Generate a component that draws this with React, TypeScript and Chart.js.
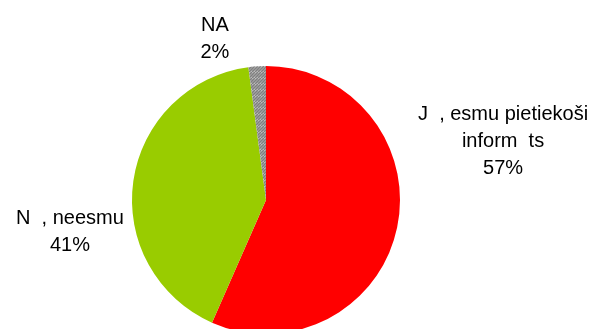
import React, { useEffect, useRef } from "react";
import { Chart, registerables } from "chart.js";

Chart.register(...registerables);

const categories: string[] = ["J  , esmu pietiekoši informēts", "N  , neesmu", "NA"];
const labelNameLines: string[][] = [
  ["J  , esmu pietiekoši", "inform  ts"],
  ["N  , neesmu"],
  ["NA"],
];
const values: number[] = [56.6, 41.3, 2.1];
const colors: string[] = ["#FF0000", "#99CC00", "pattern"];

// label block centres relative to pie centre, in units of the radius
const labelOffsets: [number, number][] = [
  [1.769, -0.44],
  [-1.463, 0.239],
  [-0.381, -1.205],
];

function makePattern(): CanvasPattern | string {
  const c = document.createElement("canvas");
  c.width = 6;
  c.height = 6;
  const g = c.getContext("2d");
  if (!g) return "#A0A0A0";
  g.fillStyle = "#D8D8D8";
  g.fillRect(0, 0, 6, 6);
  g.strokeStyle = "#7F7F7F";
  g.lineWidth = 1.6;
  g.beginPath();
  for (let k = -6; k <= 12; k += 3) {
    g.moveTo(k, 6);
    g.lineTo(k + 6, 0);
  }
  g.stroke();
  const p = g.createPattern(c, "repeat");
  return p || "#A0A0A0";
}

const labelPlugin = {
  id: "pieLabels",
  afterDraw(chart: any) {
    const meta = chart.getDatasetMeta(0);
    const ds = chart.data.datasets[0].data as number[];
    const total = ds.reduce((a, b) => a + b, 0);
    const ctx = chart.ctx;
    ctx.save();
    ctx.font = '20px "Liberation Sans", Arial, sans-serif';
    ctx.fillStyle = "#000000";
    ctx.textAlign = "center";
    ctx.textBaseline = "middle";
    const lh = 27;
    meta.data.forEach((arc: any, i: number) => {
      const { x, y, outerRadius } = arc.getProps(["x", "y", "outerRadius"], true);
      const cx = x + labelOffsets[i][0] * outerRadius;
      const cy = y + labelOffsets[i][1] * outerRadius;
      const lines = [...labelNameLines[i], Math.round((ds[i] / total) * 100) + "%"];
      const top = cy - ((lines.length - 1) * lh) / 2;
      lines.forEach((t, j) => ctx.fillText(t, cx, top + j * lh));
    });
    ctx.restore();
  },
};

export default function App() {
  const ref = useRef<HTMLCanvasElement>(null);
  useEffect(() => {
    if (!ref.current) return;
    const pattern = makePattern();
    const bg = colors.map((c) => (c === "pattern" ? pattern : c));
    const chart = new Chart(ref.current, {
      type: "pie",
      data: {
        labels: categories,
        datasets: [
          {
            data: values,
            backgroundColor: bg as any,
            borderWidth: 0,
            hoverOffset: 0,
            offset: 0,
          },
        ],
      },
      options: {
        responsive: false,
        animation: false,
        events: [],
        layout: { padding: { left: 132, right: 200, top: 66, bottom: 66 } },
        plugins: {
          legend: { display: false },
          tooltip: { enabled: false },
        },
      },
      plugins: [labelPlugin],
    });
    return () => chart.destroy();
  }, []);
  return (
    <div
      style={{
        position: "absolute",
        left: 0,
        top: 0,
        width: 600,
        height: 329,
        overflow: "hidden",
        background: "#FFFFFF",
      }}
    >
      <canvas ref={ref} width={600} height={400} style={{ width: 600, height: 400, display: "block" }} />
    </div>
  );
}
